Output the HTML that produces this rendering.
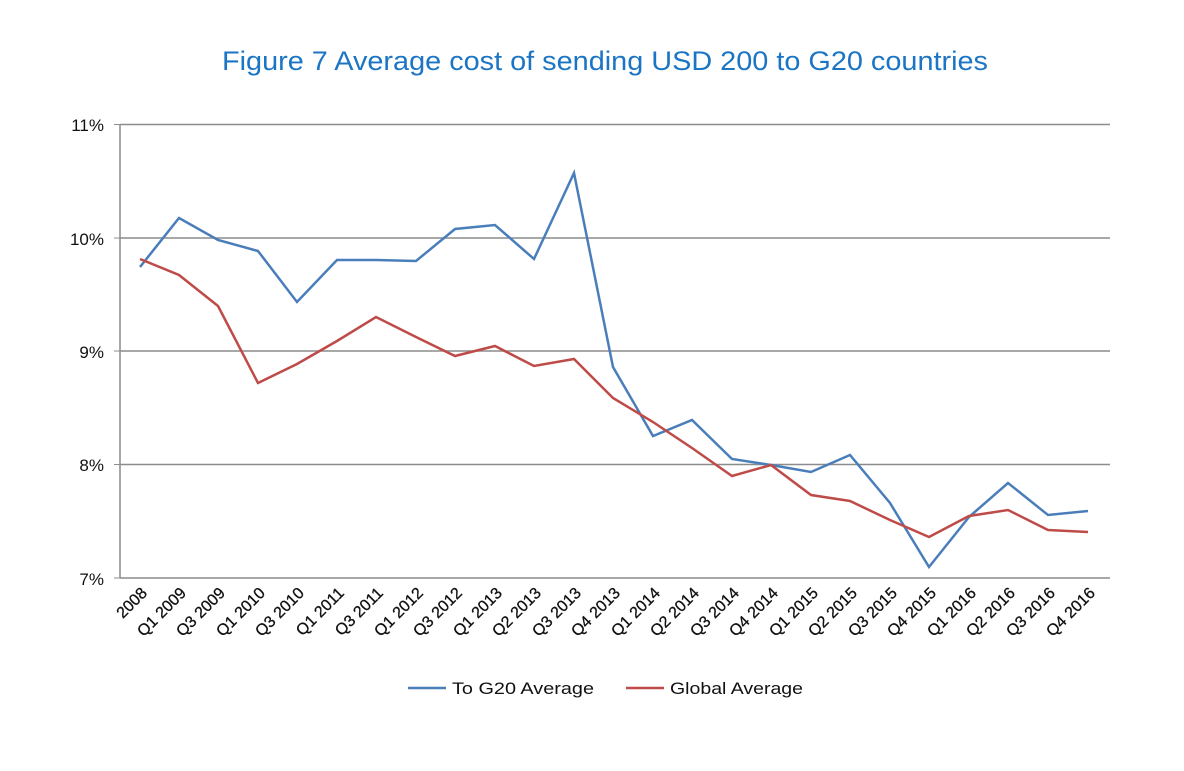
<!DOCTYPE html>
<html><head><meta charset="utf-8"><style>
body{margin:0;background:#fff;width:1184px;height:766px;overflow:hidden;font-family:"Liberation Sans",sans-serif}
</style></head><body>
<svg width="1184" height="766" viewBox="0 0 1184 766" xmlns="http://www.w3.org/2000/svg" font-family="Liberation Sans, sans-serif">
<text x="222" y="70" font-size="27" fill="#1b75c4" textLength="766" lengthAdjust="spacingAndGlyphs">Figure 7 Average cost of sending USD 200 to G20 countries</text>
<g stroke="#8c8c8c" stroke-width="1.5">
<line x1="120" y1="124.5" x2="1110" y2="124.5"/>
<line x1="120" y1="238" x2="1110" y2="238"/>
<line x1="120" y1="351" x2="1110" y2="351"/>
<line x1="120" y1="464.5" x2="1110" y2="464.5"/>
<line x1="120" y1="578" x2="1110" y2="578"/>
<line x1="120" y1="124" x2="120" y2="578"/>
</g>
<g stroke="#8c8c8c" stroke-width="1">
<line x1="114" y1="124.5" x2="120" y2="124.5"/><line x1="114" y1="238" x2="120" y2="238"/><line x1="114" y1="351" x2="120" y2="351"/><line x1="114" y1="464.5" x2="120" y2="464.5"/><line x1="114" y1="578" x2="120" y2="578"/>
</g>
<g font-size="17" fill="#111" text-anchor="end">
<text x="104" y="131">11%</text><text x="104" y="245">10%</text><text x="104" y="358">9%</text><text x="104" y="471">8%</text><text x="104" y="585">7%</text>
</g>
<polyline fill="none" stroke="#4a7ebb" stroke-width="2.5" points="140,267 179,218 218,240 258,251 297,302 337,260 376,260 416,261 455,229 495,225 534,259 574,173 613,367 653,436 692,420 732,459 771,465 811,472 850,455 890,503 929,567 969,517 1008,483 1048,515 1088,511"/>
<polyline fill="none" stroke="#be4b48" stroke-width="2.5" points="140,259 179,275 218,306 258,383 297,364 337,341 376,317 416,337 455,356 495,346 534,366 574,359 613,398 653,422 692,448 732,476 771,465 811,495 850,501 890,520 929,537 969,516 1008,510 1048,530 1088,532"/>
<g font-size="16" fill="#111" text-anchor="end" stroke="#111" stroke-width="0.3">
<text transform="translate(148,594) rotate(-45)">2008</text>
<text transform="translate(187,594) rotate(-45)">Q1 2009</text>
<text transform="translate(226,594) rotate(-45)">Q3 2009</text>
<text transform="translate(266,594) rotate(-45)">Q1 2010</text>
<text transform="translate(305,594) rotate(-45)">Q3 2010</text>
<text transform="translate(345,594) rotate(-45)">Q1 2011</text>
<text transform="translate(384,594) rotate(-45)">Q3 2011</text>
<text transform="translate(424,594) rotate(-45)">Q1 2012</text>
<text transform="translate(463,594) rotate(-45)">Q3 2012</text>
<text transform="translate(503,594) rotate(-45)">Q1 2013</text>
<text transform="translate(542,594) rotate(-45)">Q2 2013</text>
<text transform="translate(582,594) rotate(-45)">Q3 2013</text>
<text transform="translate(621,594) rotate(-45)">Q4 2013</text>
<text transform="translate(661,594) rotate(-45)">Q1 2014</text>
<text transform="translate(700,594) rotate(-45)">Q2 2014</text>
<text transform="translate(740,594) rotate(-45)">Q3 2014</text>
<text transform="translate(779,594) rotate(-45)">Q4 2014</text>
<text transform="translate(819,594) rotate(-45)">Q1 2015</text>
<text transform="translate(858,594) rotate(-45)">Q2 2015</text>
<text transform="translate(898,594) rotate(-45)">Q3 2015</text>
<text transform="translate(937,594) rotate(-45)">Q4 2015</text>
<text transform="translate(977,594) rotate(-45)">Q1 2016</text>
<text transform="translate(1016,594) rotate(-45)">Q2 2016</text>
<text transform="translate(1056,594) rotate(-45)">Q3 2016</text>
<text transform="translate(1096,594) rotate(-45)">Q4 2016</text>
</g>
<line x1="408" y1="688" x2="446" y2="688" stroke="#4a7ebb" stroke-width="2.5"/>
<text x="452" y="694" font-size="17" fill="#111" textLength="142" lengthAdjust="spacingAndGlyphs">To G20 Average</text>
<line x1="626" y1="688" x2="664" y2="688" stroke="#be4b48" stroke-width="2.5"/>
<text x="670" y="694" font-size="17" fill="#111" textLength="133" lengthAdjust="spacingAndGlyphs">Global Average</text>
</svg>
</body></html>
